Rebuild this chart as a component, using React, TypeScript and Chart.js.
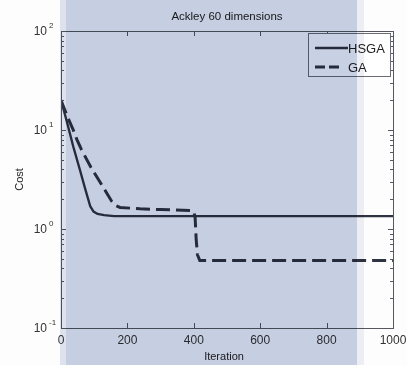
import React, { useEffect, useRef } from 'react';
import { Chart, registerables } from 'chart.js';

Chart.register(...registerables);

const titleText = 'Ackley 60 dimensions';
const xLabel = 'Iteration';
const yLabel = 'Cost';
const seriesNames = ['HSGA', 'GA'];
const xTickValues = [0, 200, 400, 600, 800, 1000];
const yDecades = [-1, 0, 1, 2];

const hsgaIter = [0, 18, 37, 57, 72, 88, 98, 110, 130, 160, 1000];
const hsgaCost = [20, 12, 6.8, 3.95, 2.6, 1.7, 1.5, 1.42, 1.38, 1.35, 1.35];

const gaIter = [0, 20, 37, 48, 62, 90, 117, 138, 153, 165, 178, 238, 300, 389, 400, 404, 407, 411, 418, 1000];
const gaCost = [20, 13.5, 10, 8, 6.3, 4.2, 3.0, 2.3, 1.9, 1.72, 1.65, 1.6, 1.57, 1.54, 1.5, 1.3, 0.8, 0.55, 0.48, 0.48];

const FONT = '"Liberation Sans", Arial, Helvetica, sans-serif';
const LINE = '#2f3442';
const DASH = [14, 6];

export default function App() {
  const ref = useRef<HTMLCanvasElement>(null);

  useEffect(() => {
    const canvas = ref.current;
    if (!canvas) return;

    const decor = {
      id: 'decor',
      beforeDraw(chart: any) {
        const { ctx, width, height } = chart;
        ctx.save();
        ctx.fillStyle = '#fdfdfd';
        ctx.fillRect(0, 0, width, height);
        ctx.restore();
      },
      afterDraw(chart: any) {
        const { ctx, chartArea: a, height } = chart;
        const xs = chart.scales.x;
        const ys = chart.scales.y;
        ctx.save();

        // box
        ctx.strokeStyle = '#55585f';
        ctx.lineWidth = 1;
        ctx.strokeRect(Math.round(a.left) + 0.5, Math.round(a.top) + 0.5, Math.round(a.right - a.left), Math.round(a.bottom - a.top));

        // x inward ticks
        ctx.beginPath();
        xTickValues.forEach((v) => {
          const px = Math.round(xs.getPixelForValue(v)) + 0.5;
          ctx.moveTo(px, a.bottom);
          ctx.lineTo(px, a.bottom - 5);
          ctx.moveTo(px, a.top);
          ctx.lineTo(px, a.top + 5);
        });
        // y inward ticks (major + minor)
        yDecades.forEach((d) => {
          const py = Math.round(ys.getPixelForValue(Math.pow(10, d))) + 0.5;
          ctx.moveTo(a.left, py);
          ctx.lineTo(a.left + 5, py);
          ctx.moveTo(a.right, py);
          ctx.lineTo(a.right - 5, py);
          if (d < 2) {
            for (let m = 2; m <= 9; m++) {
              const pm = Math.round(ys.getPixelForValue(m * Math.pow(10, d))) + 0.5;
              ctx.moveTo(a.left, pm);
              ctx.lineTo(a.left + 3, pm);
              ctx.moveTo(a.right, pm);
              ctx.lineTo(a.right - 3, pm);
            }
          }
        });
        ctx.stroke();

        // y tick labels 10^d
        ctx.fillStyle = '#333';
        yDecades.forEach((d) => {
          const py = ys.getPixelForValue(Math.pow(10, d));
          ctx.font = `12px ${FONT}`;
          ctx.textAlign = 'right';
          ctx.textBaseline = 'middle';
          ctx.fillText('10', 47, py + 1);
          ctx.font = `8px ${FONT}`;
          ctx.textAlign = 'left';
          ctx.fillText(String(d), 49, py - 5);
        });

        // title
        ctx.font = `11.5px ${FONT}`;
        ctx.textAlign = 'center';
        ctx.textBaseline = 'middle';
        ctx.fillStyle = '#222';
        ctx.fillText(titleText, (a.left + a.right) / 2, 17);

        // axis titles
        ctx.font = `11px ${FONT}`;
        ctx.fillText(xLabel, (a.left + a.right) / 2 - 3, 357);
        ctx.save();
        ctx.translate(20, (a.top + a.bottom) / 2);
        ctx.rotate(-Math.PI / 2);
        ctx.fillText(yLabel, 0, 0);
        ctx.restore();

        // legend
        const lx = Math.round(a.right) - 85;
        const ly = Math.round(a.top) + 2;
        const lw = 82;
        const lh = 43;
        ctx.fillStyle = '#ffffff';
        ctx.fillRect(lx, ly, lw, lh);
        ctx.strokeStyle = '#6a6d74';
        ctx.lineWidth = 1;
        ctx.strokeRect(lx + 0.5, ly + 0.5, lw, lh);
        const entries = [
          { name: seriesNames[0], dash: false, w: 2.3, y: ly + 15, x2: lx + 40 },
          { name: seriesNames[1], dash: true, w: 3, y: ly + 34, x2: lx + 35 },
        ];
        entries.forEach((e) => {
          ctx.strokeStyle = LINE;
          ctx.lineWidth = e.w;
          ctx.setLineDash(e.dash ? [10, 4] : []);
          ctx.beginPath();
          ctx.moveTo(lx + 7, e.y);
          ctx.lineTo(e.x2, e.y);
          ctx.stroke();
          ctx.setLineDash([]);
          ctx.fillStyle = '#222';
          ctx.font = `13px ${FONT}`;
          ctx.textAlign = 'left';
          ctx.textBaseline = 'middle';
          ctx.fillText(e.name, lx + 40, e.y + 1);
        });

        // scan-like blue overlay
        ctx.globalCompositeOperation = 'multiply';
        const oLeft = Math.round(a.left) - 1;
        const oRight = Math.round(xs.getPixelForValue(892));
        ctx.fillStyle = '#dfe4ee';
        ctx.fillRect(oLeft, 0, 6, height);
        ctx.fillStyle = '#c8d0e3';
        ctx.fillRect(oLeft + 6, 0, oRight - oLeft - 6, height);
        ctx.fillStyle = '#eef0f6';
        ctx.fillRect(oRight, 0, 7, height);
        ctx.restore();
      },
    };

    const chart = new Chart(canvas, {
      type: 'line',
      data: {
        datasets: [
          {
            label: seriesNames[0],
            data: hsgaIter.map((x, i) => ({ x, y: hsgaCost[i] })),
            borderColor: LINE,
            borderWidth: 2.3,
            pointRadius: 0,
            fill: false,
            tension: 0,
          },
          {
            label: seriesNames[1],
            data: gaIter.map((x, i) => ({ x, y: gaCost[i] })),
            borderColor: LINE,
            borderWidth: 3,
            borderDash: DASH,
            pointRadius: 0,
            fill: false,
            tension: 0,
          },
        ],
      },
      options: {
        animation: false,
        responsive: false,
        layout: { padding: { top: 31, right: 0, left: 0, bottom: 0 } },
        plugins: {
          legend: { display: false },
          title: { display: false },
          tooltip: { enabled: false },
        },
        scales: {
          x: {
            type: 'linear',
            min: 0,
            max: 1000,
            grid: { display: false, drawTicks: false },
            border: { display: false },
            ticks: {
              stepSize: 200,
              padding: 5,
              maxRotation: 0,
              color: '#333',
              font: { family: FONT, size: 12 },
              callback: (v: any) => String(v),
            },
            afterFit: (s: any) => {
              s.height = 37;
              s.paddingLeft = 0;
              s.paddingRight = 14;
            },
          },
          y: {
            type: 'logarithmic',
            min: 0.1,
            max: 100,
            grid: { display: false, drawTicks: false },
            border: { display: false },
            ticks: { display: false },
            afterFit: (s: any) => {
              s.width = 61;
            },
          },
        },
      },
      plugins: [decor],
    });

    return () => chart.destroy();
  }, []);

  return (
    <div style={{ position: 'fixed', left: 0, top: 0, width: 407, height: 365 }}>
      <canvas ref={ref} width={407} height={365} style={{ display: 'block', width: 407, height: 365 }} />
    </div>
  );
}
